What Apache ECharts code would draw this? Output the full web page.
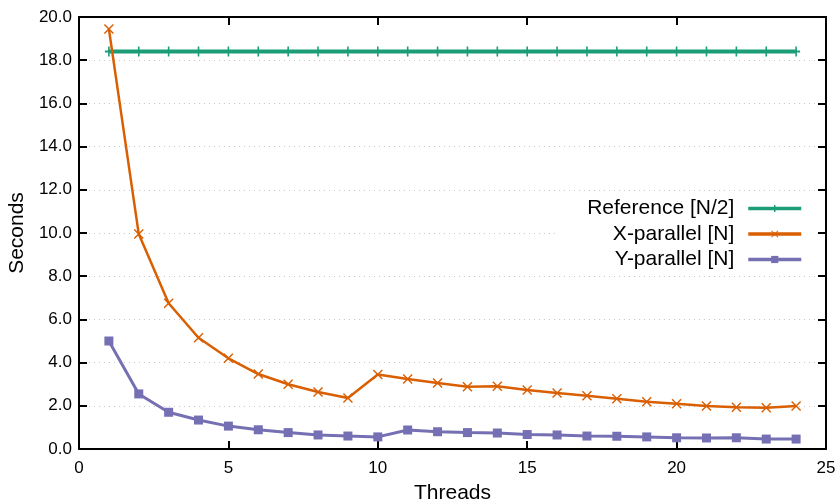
<!DOCTYPE html>
<html>
<head>
<meta charset="utf-8">
<script src="https://cdn.jsdelivr.net/npm/echarts@6/dist/echarts.min.js"></script>
<style>
  html, body { margin: 0; padding: 0; background: #fff; }
  #chart { width: 835px; height: 501px; }
</style>
</head>
<body>
<div id="chart"></div>
<script>
(function() {
  // data
  var threads = [1, 2, 3, 4, 5, 6, 7, 8, 9, 10, 11, 12, 13, 14, 15, 16, 17, 18, 19, 20, 21, 22, 23, 24];
  var referenceHalf = [18.4, 18.4, 18.4, 18.4, 18.4, 18.4, 18.4, 18.4, 18.4, 18.4, 18.4, 18.4,
                       18.4, 18.4, 18.4, 18.4, 18.4, 18.4, 18.4, 18.4, 18.4, 18.4, 18.4, 18.4];
  var xParallel = [19.45, 9.95, 6.75, 5.15, 4.2, 3.47, 3.0, 2.64, 2.36, 3.45, 3.24, 3.06,
                   2.88, 2.9, 2.73, 2.59, 2.47, 2.33, 2.19, 2.1, 1.99, 1.93, 1.91, 1.99];
  var yParallel = [5.0, 2.55, 1.7, 1.34, 1.06, 0.89, 0.76, 0.65, 0.6, 0.56, 0.88, 0.8,
                   0.76, 0.74, 0.67, 0.65, 0.6, 0.59, 0.56, 0.52, 0.51, 0.52, 0.46, 0.46];
  var seriesNames = ['Reference [N/2]', 'X-parallel [N]', 'Y-parallel [N]'];

  var green = '#1b9e77';
  var orange = '#d95f02';
  var purple = '#7570b3';
  var font = '"Liberation Sans", Arial, sans-serif';

  function pairs(ys) {
    return threads.map(function(t, i) { return [t, ys[i]]; });
  }

  var plusSym = 'path://M4,0h2v4h4v2h-4v4h-2v-4h-4v-2h4z';
  var crossSym = 'path://M0,1L1,0L5,4L9,0L10,1L6,5L10,9L9,10L5,6L1,10L0,9L4,5Z';

  var chart = echarts.init(document.getElementById('chart'), null, { renderer: 'canvas' });

  var frameLine = { show: true, onZero: false, lineStyle: { color: '#000', width: 2 } };
  var innerTick = { show: true, inside: true, length: 8, lineStyle: { color: '#000', width: 2 } };

  chart.setOption({
    animation: false,
    backgroundColor: '#fff',
    textStyle: { fontFamily: font },
    grid: { left: 79, right: 9, top: 17, bottom: 52, outerBoundsMode: 'none' },
    legend: {
      data: seriesNames,
      orient: 'vertical',
      align: 'right',
      right: 20,
      top: 195,
      padding: [3, 12, 3, 30],
      backgroundColor: '#fff',
      itemWidth: 53,
      itemHeight: 9,
      itemGap: 4.5,
      lineStyle: { width: 3.5 },
      textStyle: { fontFamily: font, fontSize: 21, color: '#000', padding: [0, 9, 0, 0] }
    },
    xAxis: [{
      type: 'value',
      min: 0, max: 25, interval: 5,
      name: 'Threads',
      nameLocation: 'middle',
      nameGap: 34,
      nameTextStyle: { fontFamily: font, fontSize: 21, color: '#000' },
      axisLine: frameLine,
      axisTick: innerTick,
      axisLabel: { color: '#000', fontSize: 17, margin: 11, fontFamily: font },
      splitLine: { show: false }
    }, {
      type: 'value',
      position: 'top',
      min: 0, max: 25, interval: 5,
      axisLine: frameLine,
      axisTick: innerTick,
      axisLabel: { show: false },
      splitLine: { show: false }
    }],
    yAxis: [{
      type: 'value',
      min: 0, max: 20, interval: 2,
      name: 'Seconds',
      nameLocation: 'middle',
      nameGap: 48,
      nameTextStyle: { fontFamily: font, fontSize: 21, color: '#000' },
      axisLine: frameLine,
      axisTick: innerTick,
      axisLabel: {
        color: '#000', fontSize: 17, margin: 7, fontFamily: font,
        formatter: function(v) { return v.toFixed(1); }
      },
      splitLine: { show: true, lineStyle: { color: '#c8c8c8', type: [1, 4], width: 1 } }
    }, {
      type: 'value',
      position: 'right',
      min: 0, max: 20, interval: 2,
      axisLine: frameLine,
      axisTick: innerTick,
      axisLabel: { show: false },
      splitLine: { show: false }
    }],
    series: [
      {
        name: seriesNames[0],
        type: 'line',
        data: pairs(referenceHalf),
        symbol: plusSym,
        symbolSize: [8, 10],
        itemStyle: { color: green },
        lineStyle: { color: green, width: 4 },
        z: 3
      },
      {
        name: seriesNames[1],
        type: 'line',
        data: pairs(xParallel),
        symbol: crossSym,
        symbolSize: 10,
        itemStyle: { color: orange },
        lineStyle: { color: orange, width: 2.5 },
        z: 4
      },
      {
        name: seriesNames[2],
        type: 'line',
        data: pairs(yParallel),
        symbol: 'rect',
        symbolSize: 9,
        itemStyle: { color: purple },
        lineStyle: { color: purple, width: 3 },
        z: 5
      }
    ]
  });
  window.addEventListener('resize', function() { chart.resize(); });
})();
</script>
</body>
</html>
